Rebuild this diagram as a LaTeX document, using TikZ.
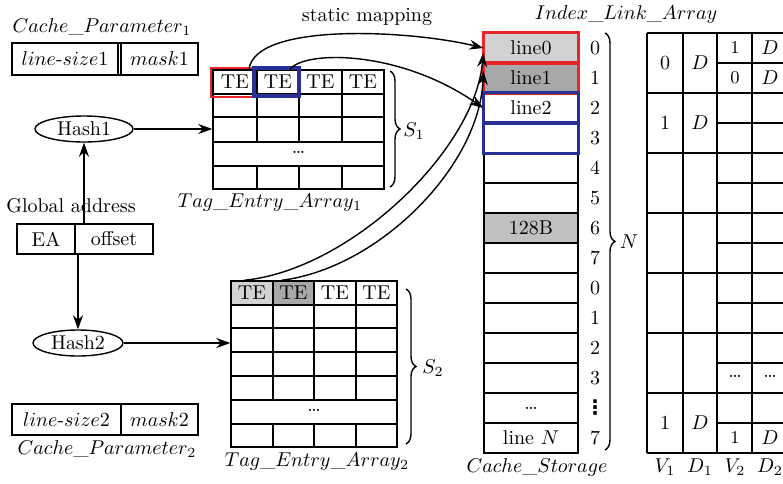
\documentclass[tikz,border=0pt]{standalone}
\usepackage{fontspec}
\newfontfamily\symfont{DejaVu Sans}
\usetikzlibrary{arrows.meta,decorations.pathreplacing,calc,shapes.geometric}
\definecolor{myred}{RGB}{232,38,42}
\definecolor{myblue}{RGB}{40,48,150}
\definecolor{lgrey}{RGB}{210,210,212}
\definecolor{dgrey}{RGB}{168,168,170}
\definecolor{mgrey}{RGB}{192,192,194}
\begin{document}
\begin{tikzpicture}[x=0.5pt,y=-0.5pt,line width=0.7pt,
  arr/.style={-{Stealth[length=7pt,width=5pt]}},
  lbl/.style={inner sep=0pt},
  scell/.style={draw,inner sep=0pt,minimum width=47pt,minimum height=15pt},
  tecell/.style={inner sep=0pt,minimum width=21pt,minimum height=12pt},
  bracestyle/.style={decorate,decoration={brace,amplitude=5pt}},
  hashnode/.style={draw,ellipse,inner sep=0pt,minimum height=13pt}]
\useasboundingbox (0,0) rectangle (783,483);
\clip (0,0) rectangle (783,483);

% ---------- Cache parameter 1 ----------
\node[lbl] (cp1lab) at (102,27) {$Cache\_Parameter_1$};
\draw (12,43) rectangle (198,75);
\draw (118,43) -- (118,75) (121,43) -- (121,75);
\node[lbl] (cp1a) at (65,59) {$line$-$size$1};
\node[lbl] (cp1b) at (159.5,59) {$mask$1};

% ---------- Cache parameter 2 ----------
\draw (12,404) rectangle (198,435);
\draw (121,404) -- (121,435);
\node[lbl] (cp2a) at (66.5,419.5) {$line$-$size$2};
\node[lbl] (cp2b) at (159.5,419.5) {$mask$2};
\node[lbl] (cp2lab) at (107,449) {$Cache\_Parameter_2$};

% ---------- Hash / address ----------
\node[hashnode,minimum width=49pt] (hash1) at (84,129) {Hash1};
\node[hashnode,minimum width=45pt] (hash2) at (78,343) {Hash2};
\node[lbl] (glob) at (71,206) {Global address};
\node[draw,inner sep=0pt,minimum width=29pt,minimum height=15pt] (ea) at (46,239) {EA};
\node[draw,inner sep=0pt,minimum width=39pt,minimum height=15pt] (off) at (114,239) {offset};
\draw[arr] (hash1.south |- off.north) -- (hash1.south);
\draw[arr] (hash2.north |- ea.south) -- (hash2.north);

% ---------- Tag entry array 1 ----------
\node[draw,inner sep=0pt,minimum width=85.5pt,minimum height=59.5pt] (arr1) at (298.5,129.5) {};
\foreach \yy in {94,117,142,166} \draw (213,\yy) -- (384,\yy);
\foreach \xx in {257,299,342} {\draw (\xx,70) -- (\xx,142); \draw (\xx,166) -- (\xx,189);}
\node[tecell] (te1a) at (235,82) {TE};
\node[tecell] (te1b) at (278,82) {TE};
\node[tecell] (te1c) at (320.5,82) {TE};
\node[tecell] (te1d) at (363,82) {TE};
\node[lbl] (dots1) at (298.5,152) {\dots};
\draw[myred,line width=1.3pt] (211,68) rectangle (253,97);
\draw[myblue,line width=1.6pt] (254,68) rectangle (299,96);
\draw[bracestyle] (390,71) -- (390,187);
\node[lbl] (s1lab) at (414,131) {$S_1$};
\node[lbl] (tea1lab) at (270,203) {$Tag\_Entry\_Array_1$};
\draw[arr] (hash1.east) -- (hash1.east -| arr1.west);

% ---------- Tag entry array 2 ----------
\node[tecell,fill=lgrey] (te2a) at (252,293) {TE};
\node[tecell,fill=dgrey] (te2b) at (293.5,293) {TE};
\node[tecell] (te2c) at (335,293) {TE};
\node[tecell] (te2d) at (376.5,293) {TE};
\node[draw,inner sep=0pt,minimum width=83pt,minimum height=83pt] (arr2) at (314,364) {};
\foreach \yy in {305,328,352,376,400,424} \draw (231,\yy) -- (397,\yy);
\foreach \xx in {273,314,356} {\draw (\xx,281) -- (\xx,400); \draw (\xx,424) -- (\xx,447);}
\node[lbl] (dots2) at (314,410) {\dots};
\draw[bracestyle] (406,289) -- (406,444);
\node[lbl] (s2lab) at (433,368) {$S_2$};
\node[lbl] (tea2lab) at (317,462) {$Tag\_Entry\_Array_2$};
\draw[arr] (hash2.east) -- (hash2.east -| arr2.west);

% ---------- Cache storage ----------
\node[scell,fill=lgrey] (s0) at (531,48) {line0};
\node[scell,fill=dgrey] (s1) at (531,78) {line1};
\node[scell] (s2) at (531,108) {line2};
\node[scell] (s3) at (531,138) {};
\node[scell] (s4) at (531,168) {};
\node[scell] (s5) at (531,198) {};
\node[scell,fill=mgrey] (s6) at (531,228) {128B};
\node[scell] (s7) at (531,258) {};
\node[scell] (s8) at (531,288) {};
\node[scell] (s9) at (531,318) {};
\node[scell] (s10) at (531,348) {};
\node[scell] (s11) at (531,378) {};
\node[scell] (s12) at (531,408) {\dots};
\node[scell] (s13) at (531,438) {line $N$};
\draw[myred,line width=1.3pt] (s0.north west) rectangle (s0.south east);
\draw[myred,line width=1.3pt] (s1.north west) rectangle (s1.south east);
\draw[myblue,line width=1.3pt] (s2.north west) rectangle (s2.south east);
\draw[myblue,line width=1.3pt] (s3.north west) rectangle (s3.south east);
\foreach \i/\t in {0/0,1/1,2/2,3/3,4/4,5/5,6/6,7/7,8/0,9/1,10/2,11/3,13/7}
  \node[lbl] (r\i) at (595,48+30*\i) {\t};
\node[lbl] (r12) at (595,408) {\symfont\bfseries ⋮};
\draw[bracestyle] (605,33) -- (605,450);
\node[lbl] (nlab) at (629,242) {$N$};
\node[lbl] (cslab) at (537,467) {$Cache\_Storage$};

% ---------- Index link array ----------
\node[lbl] (illab) at (626,14) {$Index\_Link\_Array$};
\foreach \xx in {647,683,717,752,787} \draw (\xx,33) -- (\xx,453);
\foreach \yy in {33,93,153,213,273,333,393,453} \draw (647,\yy) -- (790,\yy);
\foreach \yy in {63,123,183,243,303,363,423} \draw (717,\yy) -- (790,\yy);
\node[lbl] (v1a) at (665,63) {0};
\node[lbl] (d1a) at (700,63) {$D$};
\node[lbl] (v2a) at (735,48) {\small 1};
\node[lbl] (d2a) at (770,48) {$D$};
\node[lbl] (v2b) at (735,78) {\small 0};
\node[lbl] (d2b) at (770,78) {$D$};
\node[lbl] (v1b) at (665,123) {1};
\node[lbl] (d1b) at (700,123) {$D$};
\node[lbl] (v2dots) at (735,376) {\dots};
\node[lbl] (d2dots) at (770,376) {\dots};
\node[lbl] (v1c) at (665,423) {1};
\node[lbl] (d1c) at (700,423) {$D$};
\node[lbl] (v2c) at (735,438) {\small 1};
\node[lbl] (d2c) at (770,438) {$D$};
\node[lbl] (hv1) at (665,467) {$V_1$};
\node[lbl] (hd1) at (700,467) {$D_1$};
\node[lbl] (hv2) at (735,467) {$V_2$};
\node[lbl] (hd2) at (770,467) {$D_2$};

% ---------- static mapping ----------
\node[lbl] (smlab) at (367,17) {static mapping};
\draw[arr] ([xshift=7pt]te1a.north) .. controls (255,22) and (410,30) .. (s0.west);
\draw[arr] ([xshift=6pt]te1b.north) .. controls (305,50) and (400,50) .. (s2.west);
\draw[arr] ([xshift=-4pt]te2a.north) .. controls (350,270) and (475,150) .. ([yshift=-2.5pt]s0.west);
\draw[arr] ([xshift=-6pt]te2b.north) .. controls (380,268) and (480,165) .. ([yshift=3.5pt]s1.west);
\end{tikzpicture}
\end{document}
